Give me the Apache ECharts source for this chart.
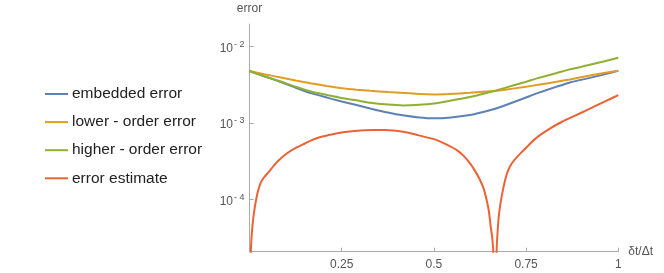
<!DOCTYPE html>
<html>
<head>
<meta charset="utf-8">
<script src="https://cdn.jsdelivr.net/npm/echarts@6/dist/echarts.min.js"></script>
<style>html,body{margin:0;padding:0;background:#fff}#c{width:664px;height:273px}</style>
</head>
<body>
<div id="c"></div>
<script>
const seriesNames = ['embedded error', 'lower - order error', 'higher - order error', 'error estimate'];
const xTickValues = [0.25, 0.5, 0.75, 1];
const yTickValues = [1e-4, 1e-3, 1e-2];

const embeddedErr = [[0,4.79e-3],[0.04,4.1e-3],[0.085,3.43e-3],[0.125,2.9e-3],[0.169,2.44e-3],[0.21,2.15e-3],[0.25,1.91e-3],[0.29,1.72e-3],[0.327,1.55e-3],[0.375,1.37e-3],[0.42,1.25e-3],[0.46,1.18e-3],[0.5,1.15e-3],[0.54,1.17e-3],[0.598,1.27e-3],[0.625,1.36e-3],[0.666,1.54e-3],[0.688,1.67e-3],[0.75,2.16e-3],[0.779,2.44e-3],[0.833,2.99e-3],[0.869,3.40e-3],[0.92,3.87e-3],[0.96,4.3e-3],[1,4.83e-3]];
const lowerErr = [[0,4.79e-3],[0.04,4.35e-3],[0.085,3.94e-3],[0.125,3.6e-3],[0.169,3.30e-3],[0.21,3.05e-3],[0.25,2.86e-3],[0.29,2.73e-3],[0.327,2.64e-3],[0.375,2.54e-3],[0.42,2.47e-3],[0.46,2.40e-3],[0.5,2.37e-3],[0.54,2.40e-3],[0.598,2.49e-3],[0.666,2.63e-3],[0.688,2.70e-3],[0.75,2.99e-3],[0.779,3.14e-3],[0.833,3.47e-3],[0.869,3.72e-3],[0.92,4.16e-3],[0.96,4.52e-3],[1,4.83e-3]];
const higherErr = [[0,4.79e-3],[0.04,4.1e-3],[0.085,3.49e-3],[0.125,2.98e-3],[0.169,2.57e-3],[0.21,2.33e-3],[0.25,2.13e-3],[0.29,1.98e-3],[0.327,1.84e-3],[0.375,1.74e-3],[0.416,1.70e-3],[0.46,1.73e-3],[0.5,1.80e-3],[0.54,1.94e-3],[0.598,2.19e-3],[0.666,2.64e-3],[0.688,2.84e-3],[0.75,3.47e-3],[0.779,3.84e-3],[0.833,4.51e-3],[0.869,5.04e-3],[0.92,5.74e-3],[0.96,6.4e-3],[1,7.16e-3]];
const estimateErr = [[0,1e-6],[0.003,1.7e-5],[0.006,3.4e-5],[0.010,5.55e-5],[0.015,8.24e-5],[0.02,1.11e-4],[0.024,1.33e-4],[0.03,1.63e-4],[0.04,1.96e-4],[0.051,2.25e-4],[0.065,2.72e-4],[0.078,3.2e-4],[0.1,3.96e-4],[0.123,4.65e-4],[0.145,5.24e-4],[0.169,5.95e-4],[0.19,6.5e-4],[0.214,6.94e-4],[0.235,7.3e-4],[0.259,7.6e-4],[0.285,7.85e-4],[0.313,8.05e-4],[0.34,8.12e-4],[0.365,8.12e-4],[0.39,8.0e-4],[0.417,7.67e-4],[0.445,7.19e-4],[0.475,6.58e-4],[0.508,5.97e-4],[0.535,5.21e-4],[0.562,4.42e-4],[0.58,3.74e-4],[0.598,2.96e-4],[0.612,2.34e-4],[0.625,1.79e-4],[0.635,1.38e-4],[0.643,9.8e-5],[0.649,7.0e-5],[0.654,4.4e-5],[0.658,3.2e-5],[0.661,2.06e-5],[0.667,1e-6],[0.670,2.06e-5],[0.675,5.4e-5],[0.679,7.9e-5],[0.685,1.17e-4],[0.693,1.78e-4],[0.70,2.31e-4],[0.711,2.95e-4],[0.725,3.57e-4],[0.738,4.15e-4],[0.76,5.32e-4],[0.783,6.67e-4],[0.81,8.18e-4],[0.846,1.03e-3],[0.88,1.23e-3],[0.919,1.51e-3],[0.96,1.88e-3],[1,2.32e-3]];

const colors = ['#5E81B5', '#E19C24', '#8FB032', '#EB6235'];
const dataSets = [embeddedErr, lowerErr, higherErr, estimateErr];

const chart = echarts.init(document.getElementById('c'), null, {renderer: 'canvas'});
const axisGray = '#aaaaaa';
const labelGray = '#555555';
const font = 'Liberation Sans, Arial, sans-serif';

chart.setOption({
  animation: false,
  backgroundColor: '#ffffff',
  grid: {left: 249.5, right: 45.7, top: 24, bottom: 21.3, containLabel: false},
  legend: {
    orient: 'vertical',
    left: 40,
    top: 81,
    itemWidth: 23,
    itemHeight: 2,
    itemGap: 12.1,
    icon: 'rect',
    textStyle: {fontSize: 15.5, color: '#222', fontFamily: font, padding: [0, 0, 0, -1]},
    data: seriesNames
  },
  xAxis: {
    type: 'value',
    min: 0, max: 1, interval: 0.25,
    name: 'δt/Δt',
    nameLocation: 'end',
    nameGap: 10,
    nameTextStyle: {fontSize: 12, color: labelGray, fontFamily: font, verticalAlign: 'middle'},
    axisLine: {show: true, onZero: false, lineStyle: {color: axisGray, width: 1}},
    axisTick: {show: true, inside: true, length: 4, lineStyle: {color: axisGray}, customValues: xTickValues},
    axisLabel: {color: labelGray, fontSize: 12, fontFamily: font, margin: 7, customValues: xTickValues,
      formatter: v => String(v)},
    splitLine: {show: false}
  },
  yAxis: {
    type: 'log',
    logBase: 10,
    min: 2.06e-5, max: 1.98e-2,
    name: 'error',
    nameLocation: 'end',
    nameGap: 9,
    nameTextStyle: {fontSize: 12, color: labelGray, fontFamily: font, align: 'center'},
    axisLine: {show: true, onZero: false, lineStyle: {color: axisGray, width: 1}},
    axisTick: {show: true, inside: true, length: 4, lineStyle: {color: axisGray}, customValues: yTickValues},
    axisLabel: {
      color: labelGray, fontSize: 12, fontFamily: font, margin: 5, customValues: yTickValues,
      formatter: v => {
        const e = Math.round(Math.log10(v));
        return '{b|10}{s|' + (e < 0 ? '- ' + (-e) : e) + '}';
      },
      rich: {
        b: {fontSize: 12, color: labelGray, fontFamily: font, padding: [4, 1, 0, 0]},
        s: {fontSize: 9, color: labelGray, fontFamily: font, padding: [0, 0, 4, 0]}
      }
    },
    splitLine: {show: false}
  },
  series: dataSets.map((d, i) => ({
    name: seriesNames[i],
    type: 'line',
    data: d,
    smooth: 0.2,
    showSymbol: false,
    clip: true,
    color: colors[i],
    lineStyle: {width: 2, color: colors[i]},
    z: i === 3 ? 3 : 2 + i * 0.1
  }))
});
</script>
</body>
</html>
